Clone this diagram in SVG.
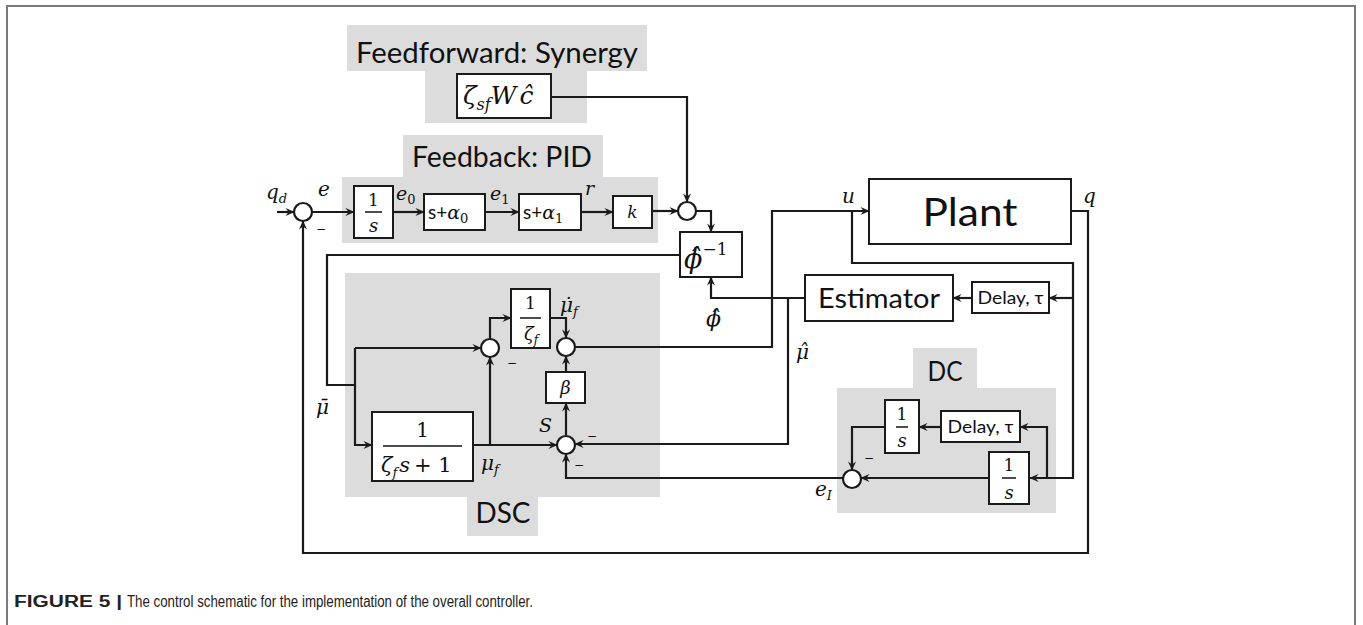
<svg xmlns="http://www.w3.org/2000/svg" width="1363" height="625" viewBox="0 0 1363 625">
<defs>
<marker id="ah" viewBox="0 0 10 10" refX="9.5" refY="5" markerWidth="9" markerHeight="9" markerUnits="userSpaceOnUse" orient="auto">
<path d="M0,0.5 L10,5 L0,9.5 L3.5,5 z" fill="#1a1a1a"/>
</marker>
<style>
.bg{fill:#dcdcdc}
.box{fill:#fff;stroke:#1a1a1a;stroke-width:2}
.sum{fill:#fff;stroke:#1a1a1a;stroke-width:2.2}
.ln{fill:none;stroke:#1a1a1a;stroke-width:2.2}
.ar{fill:none;stroke:#1a1a1a;stroke-width:2.2;marker-end:url(#ah)}
.frame{fill:none;stroke:#7a7a7a;stroke-width:2}
.sans{font-family:Lato,"Open Sans","Liberation Sans",sans-serif;fill:#111;font-style:normal}
.m{font-family:"DejaVu Serif","Liberation Serif",serif;font-style:italic;fill:#111}
.n{font-family:"DejaVu Serif","Liberation Serif",serif;font-style:normal;fill:#111}
.bar{stroke:#111;stroke-width:1.5}
.cap{font-family:"Liberation Sans Narrow","Liberation Sans",Arial,sans-serif;fill:#222;font-size:16px}
</style>
</defs>
<rect width="1363" height="625" fill="#fff"/>
<path class="frame" d="M7,625 V6 H1355 V625"/>

<g id="panel-feedforward">
<rect class="bg" x="347" y="25" width="300" height="46"/>
<rect class="bg" x="425" y="70" width="162" height="53"/>
<text class="sans" x="497" y="63" font-size="28" text-anchor="middle" textLength="282" lengthAdjust="spacingAndGlyphs">Feedforward: Synergy</text>
</g>
<g id="panel-feedback">
<rect class="bg" x="403" y="135" width="200" height="43"/>
<rect class="bg" x="342" y="177" width="316" height="66"/>
<text class="sans" x="502" y="167" font-size="28" text-anchor="middle" textLength="180" lengthAdjust="spacingAndGlyphs">Feedback: PID</text>
</g>
<g id="panel-dsc">
<rect class="bg" x="345" y="273" width="315" height="224"/>
<rect class="bg" x="467" y="496" width="71" height="40"/>
<text class="sans" x="503" y="523" font-size="28" text-anchor="middle" textLength="55" lengthAdjust="spacingAndGlyphs">DSC</text>
</g>
<g id="panel-dc">
<rect class="bg" x="913" y="348" width="64" height="41"/>
<rect class="bg" x="837" y="388" width="219" height="125"/>
<text class="sans" x="945" y="381" font-size="27" text-anchor="middle" textLength="35" lengthAdjust="spacingAndGlyphs">DC</text>
</g>

<g id="connectors">
<path class="ar" d="M277,212 H294"/>
<path class="ar" d="M312,212 H354"/>
<path class="ar" d="M393,212 H424"/>
<path class="ar" d="M485,212 H519"/>
<path class="ar" d="M581,212 H613"/>
<path class="ar" d="M652,211 H678"/>
<path class="ar" d="M551,97 H687 V202"/>
<path class="ar" d="M696,211 H711 V232"/>
<path class="ln" d="M680,255 H327 V385 H355"/>
<path class="ar" d="M355,348 V445 H372"/>
<path class="ar" d="M355,348 H481"/>
<path class="ar" d="M490,339 V318 H511"/>
<path class="ar" d="M550,318 H566 V338"/>
<path class="ar" d="M566,372 V356"/>
<path class="ar" d="M566,435 V403"/>
<path class="ar" d="M473,445 H557"/>
<path class="ar" d="M490,445 V357"/>
<path class="ar" d="M575,347 H772 V211 H869"/>
<path class="ar" d="M852,211 V263 H1073 V478 H1030"/>
<path class="ar" d="M1073,298 H1049"/>
<path class="ar" d="M1047,478 V427 H1020"/>
<path class="ar" d="M972,298 H953"/>
<path class="ar" d="M805,298 H711 V277"/>
<path class="ar" d="M788,298 V444 H575"/>
<path class="ar" d="M941,427 H919"/>
<path class="ar" d="M885,427 H852 V470"/>
<path class="ar" d="M989,478 H861"/>
<path class="ar" d="M843,478 H566 V454"/>
<path class="ar" d="M1071,211 H1088 V553 H303 V221"/>
</g>

<g id="sum-input"><circle class="sum" cx="303" cy="212" r="9"/></g>
<g id="sum-ff"><circle class="sum" cx="687" cy="211" r="9"/></g>
<g id="sum-dsc1"><circle class="sum" cx="490" cy="348" r="9"/></g>
<g id="sum-dsc2"><circle class="sum" cx="566" cy="347" r="9"/></g>
<g id="sum-dsc3"><circle class="sum" cx="566" cy="445" r="9"/></g>
<g id="sum-dc"><circle class="sum" cx="852" cy="479" r="9"/></g>

<g id="synergy">
<rect class="box" x="457" y="74" width="94" height="44"/>
<text class="m" x="463" y="104" font-size="25">ζ<tspan font-size="16" dy="6">sf</tspan><tspan dy="-6">W</tspan><tspan dx="3">ĉ</tspan></text>
</g>
<g id="integrator">
<rect class="box" x="354" y="186" width="39" height="52"/>
<text class="n" x="373.5" y="206" font-size="17" text-anchor="middle">1</text>
<line class="bar" x1="365" y1="212" x2="382" y2="212"/>
<text class="m" x="373.5" y="232" font-size="18" text-anchor="middle">s</text>
</g>
<g id="s-alpha0">
<rect class="box" x="424" y="194" width="61" height="36"/>
<text class="sans" x="428" y="219" font-size="19">s+<tspan class="m" font-size="19">α</tspan><tspan class="n" font-size="13" dy="4">0</tspan></text>
</g>
<g id="s-alpha1">
<rect class="box" x="519" y="194" width="62" height="36"/>
<text class="sans" x="523" y="219" font-size="19">s+<tspan class="m" font-size="19">α</tspan><tspan class="n" font-size="13" dy="4">1</tspan></text>
</g>
<g id="gain-k">
<rect class="box" x="613" y="196" width="39" height="32"/>
<text class="m" x="632.5" y="218" font-size="17" text-anchor="middle">k</text>
</g>
<g id="phi-inv">
<rect class="box" x="680" y="232" width="62" height="45"/>
<text class="m" x="684" y="268" font-size="27">ϕ̂<tspan class="n" font-size="17" dy="-13">−1</tspan></text>
</g>
<g id="plant">
<rect class="box" x="869" y="179" width="202" height="65"/>
<text class="sans" x="970" y="226" font-size="38" text-anchor="middle" textLength="95" lengthAdjust="spacingAndGlyphs">Plant</text>
</g>
<g id="estimator">
<rect class="box" x="805" y="275" width="148" height="46"/>
<text class="sans" x="879" y="308" font-size="26" text-anchor="middle" textLength="122" lengthAdjust="spacingAndGlyphs">Estimator</text>
</g>
<g id="delay-est">
<rect class="box" x="972" y="282" width="77" height="31"/>
<text class="sans" x="1010.5" y="304" font-size="17" text-anchor="middle" textLength="66" lengthAdjust="spacingAndGlyphs">Delay, τ</text>
</g>
<g id="inv-zeta">
<rect class="box" x="511" y="289" width="39" height="59"/>
<text class="n" x="530.5" y="309" font-size="17" text-anchor="middle">1</text>
<line class="bar" x1="520" y1="318" x2="541" y2="318"/>
<text class="m" x="524" y="340" font-size="18">ζ<tspan font-size="12" dy="4">f</tspan></text>
</g>
<g id="beta">
<rect class="box" x="546" y="372" width="39" height="31"/>
<text class="m" x="565.5" y="394" font-size="18" text-anchor="middle">β</text>
</g>
<g id="lowpass">
<rect class="box" x="372" y="412" width="101" height="69"/>
<text class="n" x="422.5" y="437" font-size="20" text-anchor="middle">1</text>
<line class="bar" x1="383" y1="446" x2="462" y2="446"/>
<text class="m" x="381" y="472" font-size="21">ζ<tspan font-size="13" dy="5">f</tspan><tspan dy="-5" dx="2">s</tspan><tspan class="n" dx="4">+ 1</tspan></text>
</g>
<g id="dc-integrator1">
<rect class="box" x="885" y="400" width="34" height="53"/>
<text class="n" x="902" y="420" font-size="17" text-anchor="middle">1</text>
<line class="bar" x1="896" y1="427" x2="908" y2="427"/>
<text class="m" x="902" y="447" font-size="18" text-anchor="middle">s</text>
</g>
<g id="delay-dc">
<rect class="box" x="941" y="411" width="79" height="31"/>
<text class="sans" x="980.5" y="433" font-size="17" text-anchor="middle" textLength="66" lengthAdjust="spacingAndGlyphs">Delay, τ</text>
</g>
<g id="dc-integrator2">
<rect class="box" x="989" y="452" width="40" height="52"/>
<text class="n" x="1009" y="471" font-size="17" text-anchor="middle">1</text>
<line class="bar" x1="1002" y1="478" x2="1016" y2="478"/>
<text class="m" x="1009" y="499" font-size="18" text-anchor="middle">s</text>
</g>

<g id="labels">
<text class="m" x="266" y="199" font-size="20">q<tspan font-size="13" dy="4">d</tspan></text>
<text class="m" x="318" y="196" font-size="20">e</text>
<text class="m" x="396" y="200" font-size="19">e<tspan class="n" font-size="13" dy="4">0</tspan></text>
<text class="m" x="490" y="200" font-size="19">e<tspan class="n" font-size="13" dy="4">1</tspan></text>
<text class="m" x="585" y="195" font-size="19">r</text>
<text class="m" x="842" y="203" font-size="20">u</text>
<text class="m" x="1083" y="203" font-size="20">q</text>
<text class="m" x="706" y="326" font-size="22">ϕ̂</text>
<text class="m" x="796" y="359" font-size="20">μ̂</text>
<text class="m" x="560" y="312" font-size="20">μ̇<tspan font-size="13" dy="4">f</tspan></text>
<text class="m" x="316" y="414" font-size="20">μ̄</text>
<text class="m" x="481" y="470" font-size="20">μ<tspan font-size="13" dy="4">f</tspan></text>
<text class="m" x="539" y="432" font-size="19">S</text>
<text class="m" x="815" y="496" font-size="20">e<tspan font-size="13" dy="4">I</tspan></text>
<text class="n" x="316" y="233" font-size="12">−</text>
<text class="n" x="507" y="367" font-size="12">−</text>
<text class="n" x="587" y="440" font-size="12">−</text>
<text class="n" x="574" y="469" font-size="12">−</text>
<text class="n" x="864" y="462" font-size="12">−</text>
</g>

<text class="cap" x="14" y="607" font-weight="bold" textLength="108" lengthAdjust="spacingAndGlyphs">FIGURE 5 |</text>
<text class="cap" x="127" y="607" textLength="406" lengthAdjust="spacingAndGlyphs">The control schematic for the implementation of the overall controller.</text>
</svg>
